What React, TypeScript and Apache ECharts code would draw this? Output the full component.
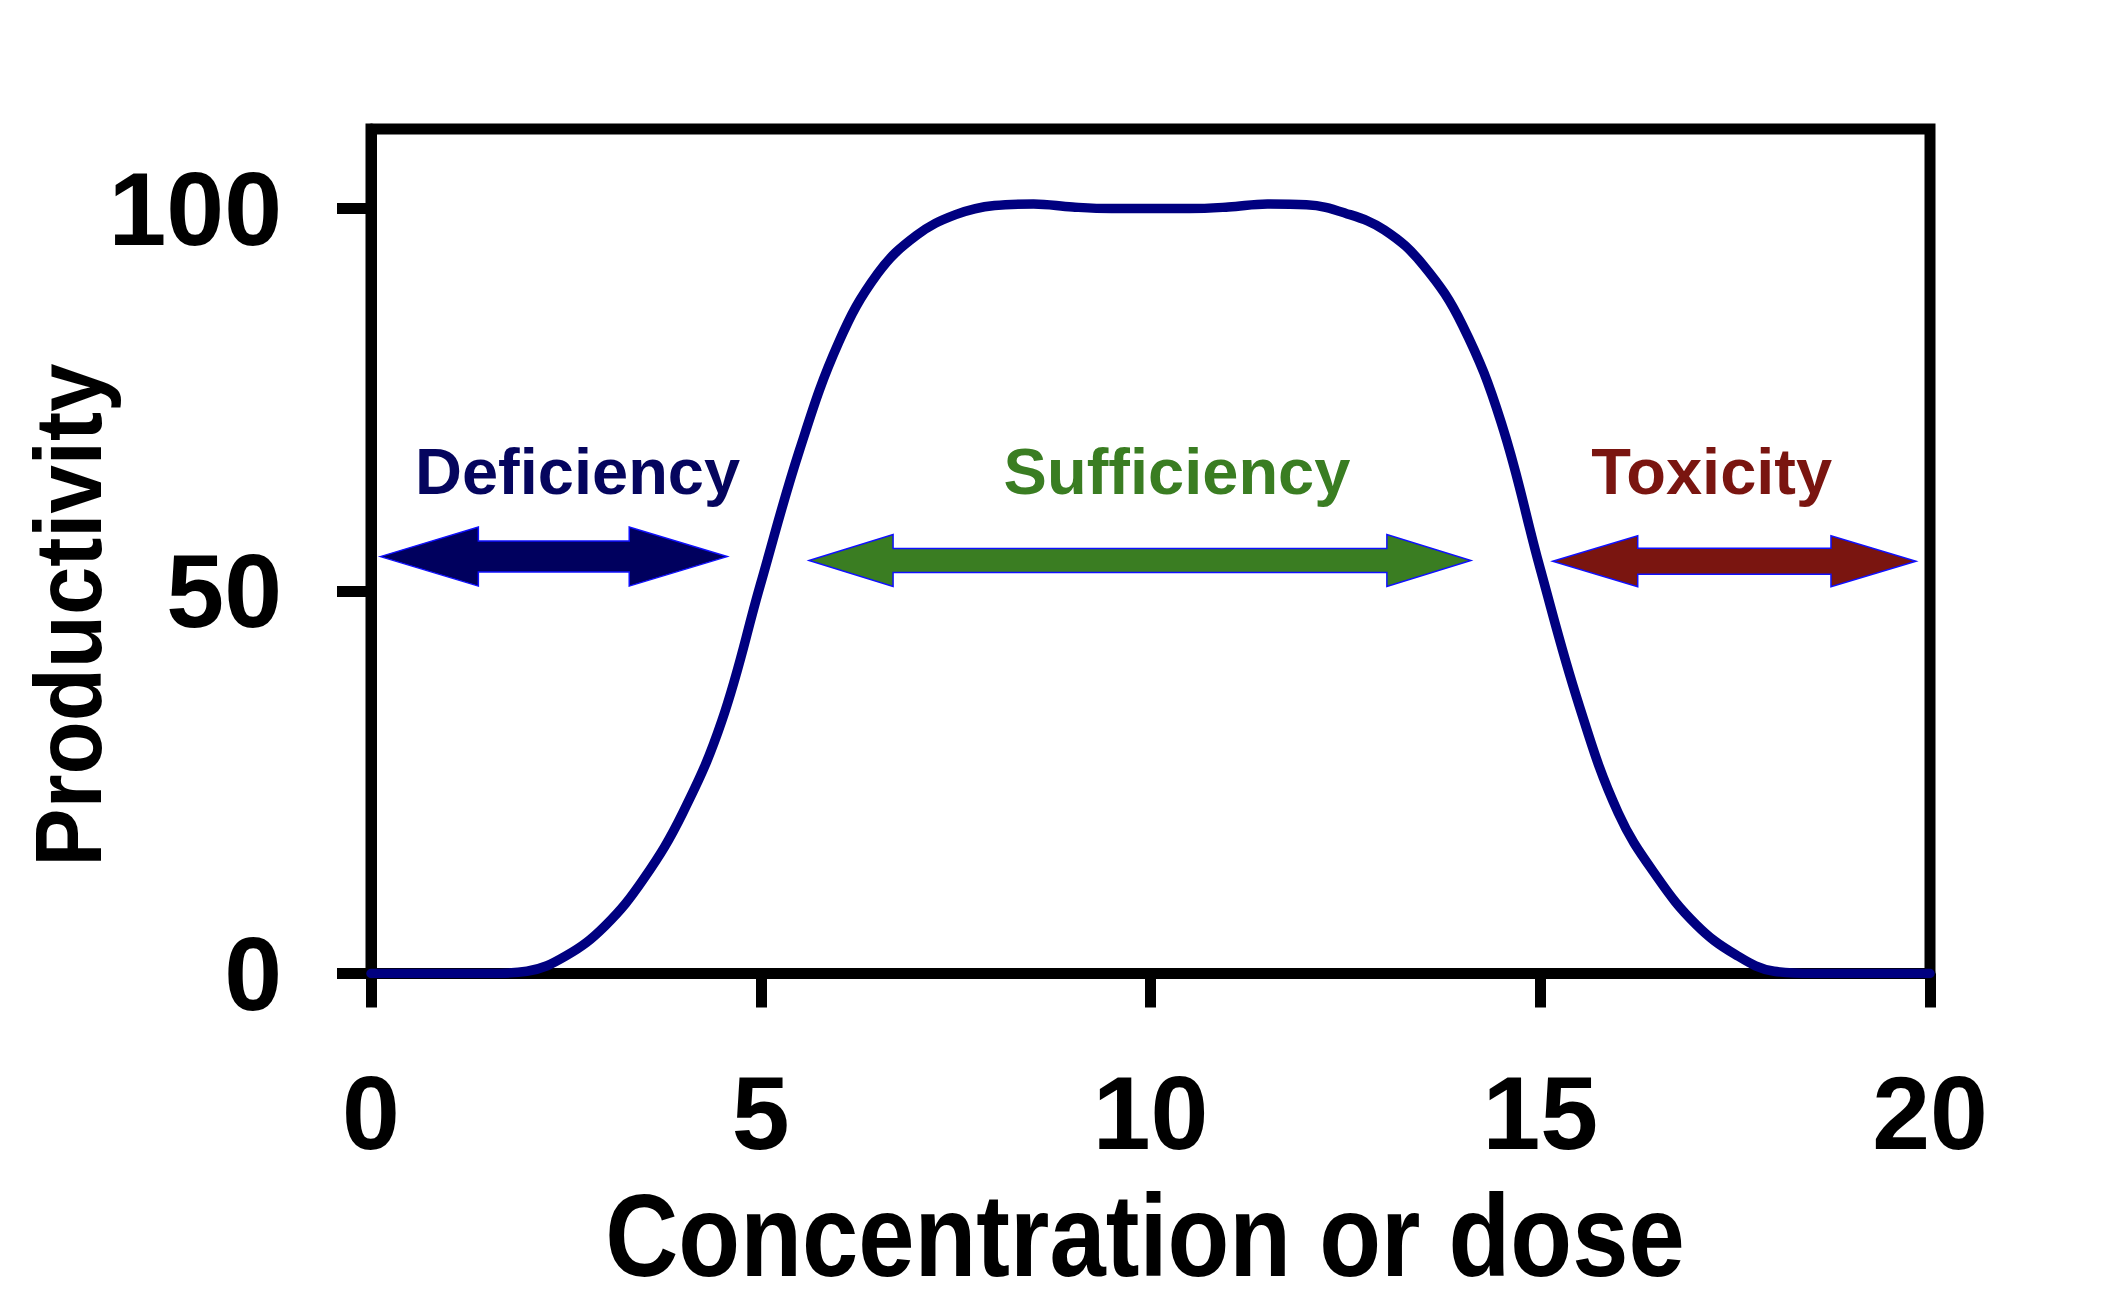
import React, { useEffect, useRef } from "react";
import * as echarts from "echarts";

// ---- data ----
const concentration = [
  0, 0.5, 1, 1.5, 2, 2.5, 3, 3.5, 4, 4.5, 5, 5.5, 6, 6.5, 7, 7.5, 8, 8.5, 9, 9.5,
  10, 10.5, 11, 11.5, 12, 12.5, 13, 13.5, 14, 14.5, 15, 15.5, 16, 16.5, 17, 17.5,
  18, 18.5, 19, 19.5, 20,
];
const productivity = [
  0, 0, 0, 0, 0.3, 2.3, 6.2, 12.4, 21, 33, 51, 68.5, 82.5, 91.5, 96.5, 99.2, 100.4, 100.6,
  100.2, 100, 100, 100, 100.2, 100.6, 100.5, 99.4, 97.2, 92.6, 84.8, 72, 52.9, 35, 21,
  12.6, 6.4, 2.5, 0.3, 0, 0, 0, 0,
];
const xTicks = [0, 5, 10, 15, 20];
const yTicks = [0, 50, 100];
const zoneNames = ["Deficiency", "Sufficiency", "Toxicity"];
const zoneStart = [0.12, 5.62, 15.16];
const zoneEnd = [4.57, 14.11, 19.82];
const arrowLevel = [54.5, 54.0, 53.9];
const labelX = [2.65, 10.34, 17.2];
const labelLevel = [65.6, 65.6, 65.6];
const xTitle = "Concentration or dose";
const yTitle = "Productivity";

// ---- styles ----
const zoneFill = ["#00005e", "#3a7d22", "#7a1510"];
const zoneText = ["#05055e", "#3a7d22", "#7a1510"];
const headLen = [98, 84, 85];
const headHalf = [29.5, 26, 25.5];
const shaftHalf = [15.5, 12, 13];

export default function App() {
  const ref = useRef<HTMLDivElement>(null);
  useEffect(() => {
    if (!ref.current) return;
    const chart = echarts.init(ref.current, null, { renderer: "svg" });
    const zoneData = zoneNames.map((n, i) => [zoneStart[i], zoneEnd[i], arrowLevel[i], labelX[i], labelLevel[i], i]);
    const tickFont = {
      color: "#000",
      fontSize: 104,
      fontWeight: "bold",
      fontFamily: "'Liberation Sans', Arial, sans-serif",
    };
    const option: any = {
      animation: false,
      backgroundColor: "#ffffff",
      grid: {
        left: 371,
        right: 192,
        top: 129,
        bottom: 332.5,
        show: true,
        borderColor: "#000",
        borderWidth: 11,
        backgroundColor: "transparent",
      },
      xAxis: {
        type: "value",
        min: 0,
        max: 20,
        interval: 5,
        axisLine: { show: true, lineStyle: { color: "#000", width: 11 } },
        axisTick: { show: true, length: 34, lineStyle: { color: "#000", width: 11 }, customValues: xTicks },
        axisLabel: { customValues: xTicks, margin: 87, ...tickFont },
        splitLine: { show: false },
      },
      yAxis: {
        type: "value",
        min: 0,
        max: 110.4,
        axisLine: { show: true, lineStyle: { color: "#000", width: 11 } },
        axisTick: { show: true, length: 34, lineStyle: { color: "#000", width: 11 }, customValues: yTicks },
        axisLabel: { customValues: yTicks, margin: 89, ...tickFont },
        splitLine: { show: false },
      },
      graphic: [
        {
          type: "text",
          x: 1145,
          y: 1235,
          scaleX: 0.865,
          style: {
            text: xTitle,
            fill: "#000",
            font: "bold 117px 'Liberation Sans', Arial, sans-serif",
            align: "center",
            verticalAlign: "middle",
          },
        },
        {
          type: "text",
          x: 68,
          y: 615,
          rotation: Math.PI / 2,
          scaleX: 0.916,
          style: {
            text: yTitle,
            fill: "#000",
            font: "bold 95px 'Liberation Sans', Arial, sans-serif",
            align: "center",
            verticalAlign: "middle",
          },
        },
      ],
      series: [
        {
          type: "line",
          data: concentration.map((c, i) => [c, productivity[i]]),
          smooth: 0.4,
          showSymbol: false,
          symbol: "none",
          lineStyle: { color: "#000080", width: 9.5, cap: "round", join: "round" },
          z: 3,
        },
        {
          type: "custom",
          coordinateSystem: "cartesian2d",
          clip: false,
          z: 4,
          data: zoneData,
          renderItem: (params: any, api: any) => {
            const i = api.value(5);
            const a = api.coord([api.value(0), api.value(2)]);
            const b = api.coord([api.value(1), api.value(2)]);
            const t = api.coord([api.value(3), api.value(4)]);
            const y = a[1];
            const x1 = a[0];
            const x2 = b[0];
            const hl = headLen[i];
            const hh = headHalf[i];
            const sh = shaftHalf[i];
            const pts = [
              [x1, y],
              [x1 + hl, y - hh],
              [x1 + hl, y - sh],
              [x2 - hl, y - sh],
              [x2 - hl, y - hh],
              [x2, y],
              [x2 - hl, y + hh],
              [x2 - hl, y + sh],
              [x1 + hl, y + sh],
              [x1 + hl, y + hh],
            ];
            return {
              type: "group",
              children: [
                {
                  type: "polygon",
                  shape: { points: pts },
                  style: { fill: zoneFill[i], stroke: "#1010ff", lineWidth: 1.5 },
                },
                {
                  type: "text",
                  x: t[0],
                  y: t[1],
                  style: {
                    text: zoneNames[i],
                    fill: zoneText[i],
                    font: "bold 65px 'Liberation Sans', Arial, sans-serif",
                    align: "center",
                    verticalAlign: "middle",
                  },
                },
              ],
            };
          },
        },
      ],
    };
    chart.setOption(option);
    return () => chart.dispose();
  }, []);
  return (
    <div
      ref={ref}
      style={{ position: "fixed", left: 0, top: 0, width: 2122, height: 1306, background: "#fff" }}
    />
  );
}
